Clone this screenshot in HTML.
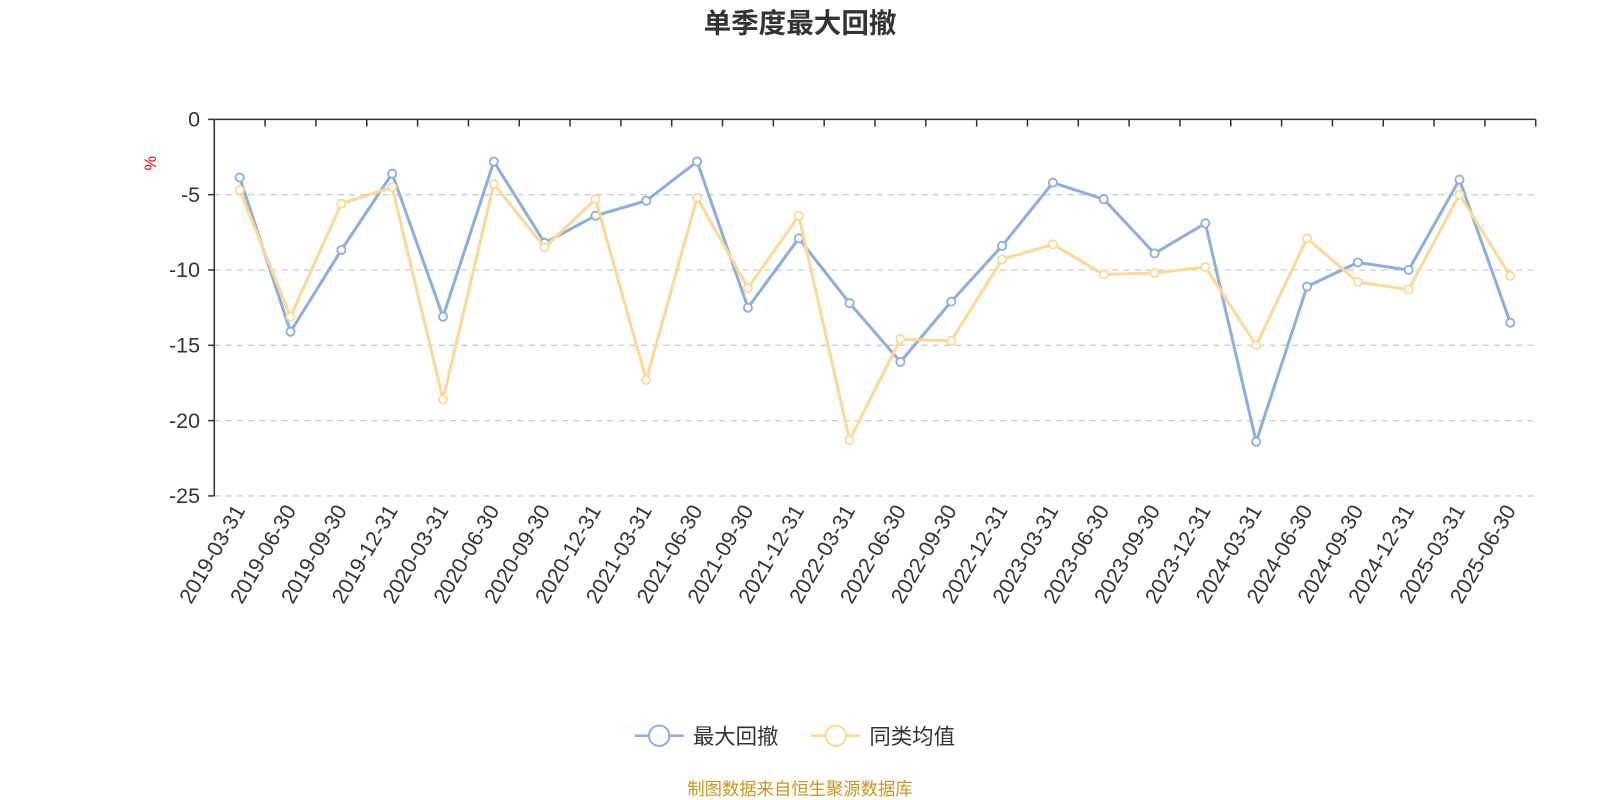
<!DOCTYPE html>
<html><head><meta charset="utf-8"><style>
body{margin:0;background:#fff;width:1600px;height:800px;overflow:hidden;font-family:"Liberation Sans","Noto Sans CJK SC",sans-serif}
svg{display:block}
</style></head><body>
<svg id="chart" width="1600" height="800" viewBox="0 0 1568 784" preserveAspectRatio="none" xmlns="http://www.w3.org/2000/svg" font-family="Liberation Sans, Noto Sans CJK SC, sans-serif">
<text x="784" y="32" text-anchor="middle" font-size="27" font-weight="bold" fill="#333">单季度最大回撤</text>
<text x="153" y="160" font-size="16" fill="#e00" transform="rotate(-90 153 160)" text-anchor="middle">%</text>
<g id="grid"></g><g id="axes"></g><g id="series"></g>
<g>
<g>
<line x1="622" y1="721" x2="670" y2="721" stroke="#8eaedb" stroke-width="2.5"/><circle cx="646" cy="721" r="10" fill="#fff" stroke="#8eaedb" stroke-width="2"/>
<text x="679" y="729" font-size="21" fill="#333">最大回撤</text></g>
<g>
<line x1="795" y1="721" x2="843" y2="721" stroke="#fcd899" stroke-width="2.5"/><circle cx="819" cy="721" r="10" fill="#fff" stroke="#fcd899" stroke-width="2"/>
<text x="852" y="729" font-size="21" fill="#333">同类均值</text></g>
</g>
<text x="784" y="779" text-anchor="middle" font-size="17" fill="#c8961e">制图数据来自恒生聚源数据库</text>
</svg>
<script>
const categories=["2019-03-31","2019-06-30","2019-09-30","2019-12-31","2020-03-31","2020-06-30","2020-09-30","2020-12-31","2021-03-31","2021-06-30","2021-09-30","2021-12-31","2022-03-31","2022-06-30","2022-09-30","2022-12-31","2023-03-31","2023-06-30","2023-09-30","2023-12-31","2024-03-31","2024-06-30","2024-09-30","2024-12-31","2025-03-31","2025-06-30"];
const maxDrawdown=[-3.86,-14.1,-8.67,-3.6,-13.1,-2.8,-8.2,-6.4,-5.4,-2.8,-12.5,-7.9,-12.2,-16.1,-12.1,-8.4,-4.2,-5.3,-8.9,-6.9,-21.4,-11.1,-9.5,-10.0,-4.0,-13.5];
const peerAverage=[-4.7,-13.1,-5.6,-4.5,-18.6,-4.3,-8.5,-5.3,-17.3,-5.2,-11.2,-6.4,-21.3,-14.6,-14.7,-9.3,-8.3,-10.3,-10.2,-9.8,-15.0,-7.9,-10.8,-11.3,-5.0,-10.4];
const yTicks=[0,-5,-10,-15,-20,-25];
const NS="http://www.w3.org/2000/svg";
const L=210,R=1505,T=117,B=486;
const bw=(R-L)/categories.length;
const xs=i=>L+bw*(i+0.5);
const ys=v=>T+(0-v)/25*(B-T);
function mk(tag,attrs,parent,text){const e=document.createElementNS(NS,tag);for(const k in attrs)e.setAttribute(k,attrs[k]);if(text!==undefined)e.textContent=text;parent.appendChild(e);return e;}
const grid=document.getElementById('grid'),axes=document.getElementById('axes'),series=document.getElementById('series');
yTicks.forEach(t=>{
 const y=ys(t);
 if(t!==0){const g=mk('line',{x1:L,x2:R,y1:y,y2:y,stroke:'#ccc','stroke-dasharray':'6,5','stroke-width':1.3},grid);
 
 }
 const lb=mk('text',{x:L-14,y:y+7,'text-anchor':'end','font-size':21,fill:'#333'},axes,String(t));
 
 
 const tk=mk('line',{x1:L-6,x2:L,y1:y,y2:y,stroke:'#333','stroke-width':1.5},axes);
 
 
});
const ya=mk('line',{x1:L,x2:L,y1:T,y2:B,stroke:'#333','stroke-width':1.5},axes);


const xa=mk('line',{x1:L,x2:R,y1:T,y2:T,stroke:'#333','stroke-width':1.5},axes);


for(let i=0;i<=categories.length;i++){
 const x=L+bw*i;
 const tk=mk('line',{x1:x,x2:x,y1:T,y2:T+7,stroke:'#333','stroke-width':1.5},axes);
 
 
}
categories.forEach((c,i)=>{
 const x=xs(i)+6,y=B+14;
 const t=mk('text',{x:x,y:y,'text-anchor':'end','font-size':21,fill:'#333',transform:`rotate(-60 ${x} ${y})`},axes,c);
 
 
});
function drawSeries(vals,color,name){
 const p=mk('polyline',{points:vals.map((v,i)=>xs(i)+','+ys(v)).join(' '),fill:'none',stroke:color,'stroke-width':3,'stroke-linejoin':'round'},series);
 
 
 vals.forEach((v,i)=>{
  const c=mk('circle',{cx:xs(i),cy:ys(v),r:4,fill:'#fff',stroke:color,'stroke-width':1.8},series);
  
  
 });
}
drawSeries(maxDrawdown,'#8eaedb','max-drawdown');
drawSeries(peerAverage,'#fcd899','peer-average');
</script>
</body></html>
